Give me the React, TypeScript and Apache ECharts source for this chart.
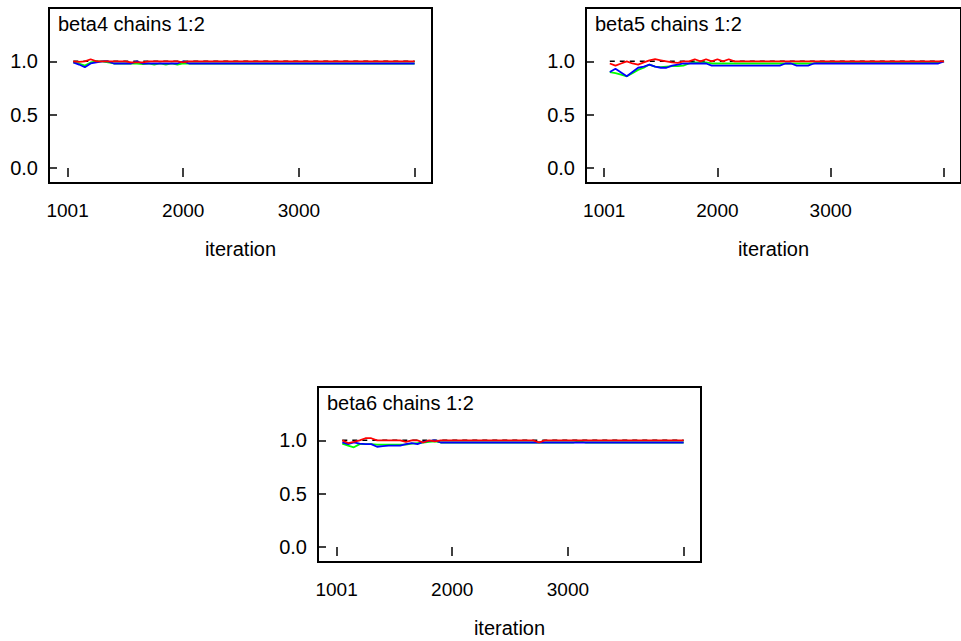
import React, { useEffect, useRef } from "react";
import * as echarts from "echarts";

// Iterations at which the Brooks-Gelman-Rubin statistics are plotted
const iterations = [
  1050, 1100, 1150, 1200, 1250, 1300, 1350, 1400, 1450, 1500,
  1550, 1600, 1650, 1700, 1750, 1800, 1850, 1900, 1950, 2000,
  2050, 2100, 2150, 2200, 2250, 2300, 2350, 2400, 2450, 2500,
  2550, 2600, 2650, 2700, 2750, 2800, 2850, 2900, 2950, 3000,
  3050, 3100, 3150, 3200, 3250, 3300, 3350, 3400, 3450, 3500,
  3550, 3600, 3650, 3700, 3750, 3800, 3850, 3900, 3950, 4000,
];

const xTickValues = [1001, 2000, 3000, 4000];
const xLabelValues = [1001, 2000, 3000];
const yTickValues = [0, 0.5, 1.0];
const referenceLevel = 1.0;

// beta4
const beta4Pooled = [
  0.99, 0.98, 0.96, 0.99, 1.0, 1.0, 0.99, 0.98, 0.98, 0.98,
  0.98, 0.98, 0.975, 0.98, 0.97, 0.98, 0.97, 0.98, 0.97, 0.98,
  0.98, 0.98, 0.98, 0.98, 0.98, 0.98, 0.98, 0.98, 0.98, 0.98,
  0.98, 0.98, 0.98, 0.98, 0.98, 0.98, 0.98, 0.98, 0.98, 0.98,
  0.98, 0.98, 0.98, 0.98, 0.98, 0.98, 0.98, 0.98, 0.98, 0.98,
  0.98, 0.98, 0.98, 0.98, 0.98, 0.98, 0.98, 0.98, 0.98, 0.98,
];
const beta4Within = [
  0.99, 0.97, 0.945, 0.98, 0.99, 1.0, 1.0, 0.98, 0.98, 0.98,
  0.98, 1.0, 0.98, 0.98, 0.98, 0.98, 0.98, 0.98, 0.98, 1.0,
  0.98, 0.98, 0.98, 0.98, 0.98, 0.98, 0.98, 0.98, 0.98, 0.98,
  0.98, 0.98, 0.98, 0.98, 0.98, 0.98, 0.98, 0.98, 0.98, 0.98,
  0.98, 0.98, 0.98, 0.98, 0.98, 0.98, 0.98, 0.98, 0.98, 0.98,
  0.98, 0.98, 0.98, 0.98, 0.98, 0.98, 0.98, 0.98, 0.98, 0.98,
];
const beta4Ratio = [
  1.0, 0.995, 1.0, 1.02, 1.0, 1.0, 1.0, 1.0, 1.0, 1.0,
  0.99, 0.99, 0.99, 1.0, 1.0, 1.0, 1.0, 1.0, 1.0, 0.99,
  1.0, 1.0, 1.0, 1.0, 1.0, 1.0, 1.0, 1.0, 1.0, 1.0,
  1.0, 1.0, 1.0, 1.0, 1.0, 1.0, 1.0, 1.0, 1.0, 1.0,
  1.0, 1.0, 1.0, 1.0, 1.0, 1.0, 1.0, 1.0, 1.0, 1.0,
  1.0, 1.0, 1.0, 1.0, 1.0, 1.0, 1.0, 1.0, 1.0, 1.0,
];

// beta5
const beta5Pooled = [
  0.9, 0.89, 0.875, 0.86, 0.89, 0.92, 0.94, 0.97, 0.95, 0.945,
  0.95, 0.955, 0.955, 0.96, 0.98, 0.99, 0.99, 0.99, 0.98, 0.98,
  0.98, 0.98, 0.98, 0.98, 0.98, 0.98, 0.98, 0.98, 0.98, 0.98,
  0.98, 0.98, 0.98, 0.98, 0.98, 0.98, 0.98, 0.99, 0.99, 0.99,
  0.99, 0.99, 0.99, 0.99, 0.99, 0.99, 0.99, 0.99, 0.99, 0.99,
  0.99, 0.99, 0.99, 0.99, 0.99, 0.99, 0.99, 0.99, 0.99, 1.0,
];
const beta5Within = [
  0.9, 0.93, 0.895, 0.86, 0.9, 0.94, 0.95, 0.97, 0.95, 0.94,
  0.94, 0.96, 0.97, 0.98, 0.98, 0.98, 0.98, 0.98, 0.96, 0.96,
  0.96, 0.96, 0.96, 0.96, 0.96, 0.96, 0.96, 0.96, 0.96, 0.96,
  0.96, 0.98, 0.98, 0.96, 0.96, 0.96, 0.98, 0.98, 0.98, 0.98,
  0.98, 0.98, 0.98, 0.98, 0.98, 0.98, 0.98, 0.98, 0.98, 0.98,
  0.98, 0.98, 0.98, 0.98, 0.98, 0.98, 0.98, 0.98, 0.98, 1.0,
];
const beta5Ratio = [
  0.98, 0.96, 0.98, 1.0, 0.98, 0.97, 0.99, 1.01, 1.02, 1.01,
  1.0, 0.99, 0.985, 1.0, 1.0, 1.02, 1.0, 1.02, 1.0, 1.02,
  1.0, 1.02, 1.0, 1.0, 1.0, 1.0, 1.0, 1.0, 1.0, 1.0,
  1.0, 1.0, 1.0, 1.0, 1.0, 1.0, 1.0, 1.0, 1.0, 1.0,
  1.0, 1.0, 1.0, 1.0, 1.0, 1.0, 1.0, 1.0, 1.0, 1.0,
  1.0, 1.0, 1.0, 1.0, 1.0, 1.0, 1.0, 1.0, 1.0, 1.0,
];

// beta6
const beta6Pooled = [
  0.97, 0.95, 0.935, 0.965, 0.965, 0.965, 0.96, 0.96, 0.96, 0.96,
  0.96, 0.96, 0.97, 0.975, 0.98, 0.985, 0.99, 0.98, 0.98, 0.98,
  0.98, 0.98, 0.98, 0.98, 0.98, 0.98, 0.98, 0.98, 0.98, 0.98,
  0.98, 0.98, 0.98, 0.98, 0.98, 0.98, 0.98, 0.98, 0.98, 0.98,
  0.98, 0.99, 0.98, 0.98, 0.98, 0.98, 0.98, 0.98, 0.98, 0.98,
  0.98, 0.98, 0.98, 0.98, 0.98, 0.98, 0.98, 0.98, 0.98, 0.98,
];
const beta6Within = [
  0.98, 0.965, 0.98, 0.97, 0.965, 0.965, 0.94, 0.945, 0.95, 0.95,
  0.95, 0.965, 0.975, 0.965, 0.985, 0.995, 1.0, 0.98, 0.98, 0.98,
  0.98, 0.98, 0.98, 0.98, 0.98, 0.98, 0.98, 0.98, 0.98, 0.98,
  0.98, 0.98, 0.98, 0.98, 0.98, 0.98, 0.98, 0.98, 0.98, 0.98,
  0.98, 0.98, 0.98, 0.98, 0.98, 0.98, 0.98, 0.98, 0.98, 0.98,
  0.98, 0.98, 0.98, 0.98, 0.98, 0.98, 0.98, 0.98, 0.98, 0.98,
];
const beta6Ratio = [
  1.0, 0.975, 0.985, 1.0, 1.02, 1.02, 1.0, 1.0, 1.0, 1.0,
  1.0, 0.985, 1.0, 1.0, 0.98, 1.0, 0.99, 1.0, 1.0, 1.0,
  1.0, 1.0, 1.0, 1.0, 1.0, 1.0, 1.0, 1.0, 1.0, 1.0,
  1.0, 1.0, 1.0, 1.0, 0.98, 1.0, 1.0, 1.0, 1.0, 1.0,
  1.0, 1.0, 1.0, 1.0, 1.0, 1.0, 1.0, 1.0, 1.0, 1.0,
  1.0, 1.0, 1.0, 1.0, 1.0, 1.0, 1.0, 1.0, 1.0, 1.0,
];

const panelTitles = ["beta4 chains 1:2", "beta5 chains 1:2", "beta6 chains 1:2"];

const FONT = "'Liberation Sans', Arial, Helvetica, sans-serif";

export default function App() {
  const ref = useRef<HTMLDivElement>(null);

  useEffect(() => {
    if (!ref.current) return;
    const chart = echarts.init(ref.current, null, { renderer: "svg" });

    const panels = [
      { left: 49, top: 8, pooled: beta4Pooled, within: beta4Within, ratio: beta4Ratio },
      { left: 586, top: 8, pooled: beta5Pooled, within: beta5Within, ratio: beta5Ratio },
      { left: 318, top: 387, pooled: beta6Pooled, within: beta6Within, ratio: beta6Ratio },
    ];
    const W = 383;
    const H = 175;

    const grids: any[] = [];
    const xAxes: any[] = [];
    const yAxes: any[] = [];
    const titles: any[] = [];
    const series: any[] = [];

    const pair = (vals: number[]) => iterations.map((x, i) => [x, vals[i]]);

    panels.forEach((p, gi) => {
      grids.push({
        left: p.left,
        top: p.top,
        width: W,
        height: H,
        show: true,
        borderColor: "#000",
        borderWidth: 2,
        backgroundColor: "transparent",
      });
      xAxes.push({
        type: "value",
        gridIndex: gi,
        min: 840,
        max: 4150,
        offset: 1,
        axisLine: { show: false },
        axisTick: {
          show: true,
          customValues: xTickValues,
          length: 9,
          lineStyle: { color: "#000", width: 1.5 },
        },
        axisLabel: {
          customValues: xLabelValues,
          formatter: (v: number) => String(v),
          fontSize: 19,
          color: "#000",
          margin: 17,
          fontFamily: FONT,
        },
        splitLine: { show: false },
        name: "iteration",
        nameLocation: "middle",
        nameGap: 55,
        nameTextStyle: { fontSize: 20, color: "#000", fontFamily: FONT },
      });
      yAxes.push({
        type: "value",
        gridIndex: gi,
        min: -0.14,
        max: 1.5,
        offset: -8,
        axisLine: { show: false },
        axisTick: {
          show: true,
          inside: false,
          customValues: yTickValues,
          length: 8,
          lineStyle: { color: "#000", width: 1.5 },
        },
        axisLabel: {
          customValues: yTickValues,
          formatter: (v: number) => v.toFixed(1),
          fontSize: 20,
          color: "#000",
          margin: 19,
          fontFamily: FONT,
        },
        splitLine: { show: false },
      });
      titles.push({
        text: panelTitles[gi],
        left: p.left + 9,
        top: p.top + 6,
        padding: 0,
        textStyle: { fontSize: 20, fontWeight: "normal", color: "#000", fontFamily: FONT },
      });
      const common = {
        type: "line",
        xAxisIndex: gi,
        yAxisIndex: gi,
        showSymbol: false,
        symbol: "none",
        silent: true,
      };
      series.push({
        ...common,
        data: iterations.map((x) => [x, referenceLevel]),
        lineStyle: { color: "#000", width: 1.5, type: [5, 5] },
      });
      series.push({ ...common, data: pair(p.pooled), lineStyle: { color: "#00ff00", width: 1.8 } });
      series.push({ ...common, data: pair(p.within), lineStyle: { color: "#0000ff", width: 1.8 } });
      series.push({ ...common, data: pair(p.ratio), lineStyle: { color: "#ff0000", width: 1.8 } });
    });

    chart.setOption({
      animation: false,
      backgroundColor: "#fff",
      title: titles,
      grid: grids,
      xAxis: xAxes,
      yAxis: yAxes,
      series,
    });

    return () => chart.dispose();
  }, []);

  return (
    <div
      ref={ref}
      style={{ position: "fixed", left: 0, top: 0, width: 961, height: 641 }}
    />
  );
}
